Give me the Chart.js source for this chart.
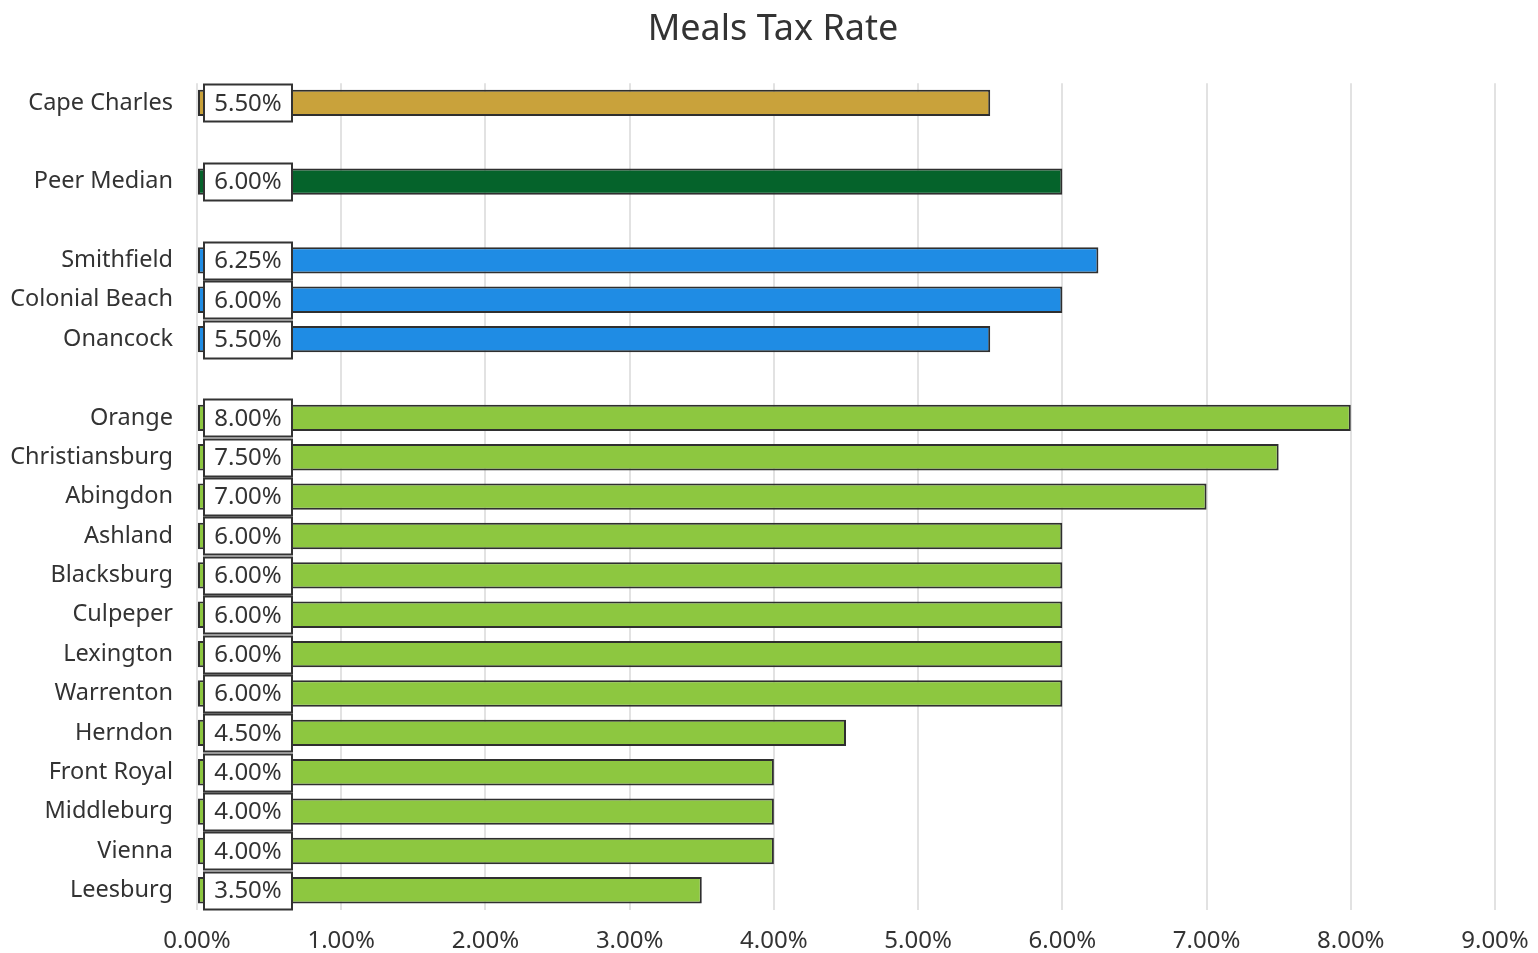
<!DOCTYPE html>
<html>
<head>
<meta charset="utf-8">
<title>Meals Tax Rate</title>
<script src="https://cdn.jsdelivr.net/npm/chart.js@4.4.1/dist/chart.umd.min.js"></script>
<style>
  html, body { margin: 0; padding: 0; background: #fff; }
  #wrap { width: 1538px; height: 953px; }
</style>
</head>
<body>
<div id="wrap"><canvas id="mealsChart"></canvas></div>
<script>
// blank entries leave a gap row between the groups
var towns = [
  'Cape Charles', '',
  'Peer Median', '',
  'Smithfield', 'Colonial Beach', 'Onancock', '',
  'Orange', 'Christiansburg', 'Abingdon', 'Ashland', 'Blacksburg',
  'Culpeper', 'Lexington', 'Warrenton', 'Herndon', 'Front Royal',
  'Middleburg', 'Vienna', 'Leesburg'
];
var rates = [
  5.5, null,
  6.0, null,
  6.25, 6.0, 5.5, null,
  8.0, 7.5, 7.0, 6.0, 6.0,
  6.0, 6.0, 6.0, 4.5, 4.0,
  4.0, 4.0, 3.5
];
var groups = [
  'home', '',
  'median', '',
  'coastal', 'coastal', 'coastal', '',
  'peer', 'peer', 'peer', 'peer', 'peer',
  'peer', 'peer', 'peer', 'peer', 'peer',
  'peer', 'peer', 'peer'
];
var xTicks = [0, 1, 2, 3, 4, 5, 6, 7, 8, 9];

var groupColors = {
  home: '#C9A23B',
  median: '#05632B',
  coastal: '#1F8CE4',
  peer: '#8DC740',
  '': 'rgba(0,0,0,0)'
};

var FONT = '"Noto Sans", "DejaVu Sans", sans-serif';
var TEXT = '#333333';

// white value boxes sitting at the start of each bar
var valueBoxes = {
  id: 'valueBoxes',
  afterDatasetsDraw: function(chart) {
    var ctx = chart.ctx;
    var meta = chart.getDatasetMeta(0);
    var left = chart.chartArea.left + 7;
    var w = 88, h = 37;
    ctx.save();
    ctx.font = '24px ' + FONT;
    ctx.textAlign = 'center';
    ctx.textBaseline = 'middle';
    meta.data.forEach(function(bar, i) {
      var v = rates[i];
      if (v === null) return;
      var top = Math.round(bar.y - h / 2) + 0.5;
      ctx.fillStyle = '#ffffff';
      ctx.fillRect(left, top, w, h);
      ctx.lineWidth = 2;
      ctx.strokeStyle = '#333333';
      ctx.strokeRect(left, top, w, h);
      ctx.fillStyle = TEXT;
      ctx.fillText(v.toFixed(2) + '%', left + w / 2, bar.y + 1);
    });
    ctx.restore();
  }
};

new Chart(document.getElementById('mealsChart'), {
  type: 'bar',
  data: {
    labels: towns,
    datasets: [{
      data: rates,
      backgroundColor: groups.map(function(g) { return groupColors[g]; }),
      borderColor: '#2f2f2f',
      borderWidth: 2,
      borderSkipped: false,
      barPercentage: 0.67,
      categoryPercentage: 1
    }]
  },
  options: {
    indexAxis: 'y',
    responsive: true,
    maintainAspectRatio: false,
    animation: false,
    layout: { padding: { left: 8, right: 0, top: 0, bottom: 0 } },
    plugins: {
      legend: { display: false },
      tooltip: { enabled: false },
      title: {
        display: true,
        text: 'Meals Tax Rate',
        color: TEXT,
        font: { family: FONT, size: 36, weight: 'normal' },
        padding: { top: 8, bottom: 32 }
      }
    },
    scales: {
      x: {
        min: 0,
        max: 9,
        afterBuildTicks: function(scale) {
          scale.ticks = xTicks.map(function(v) { return { value: v }; });
        },
        afterFit: function(scale) {
          scale.height = 43;
          scale.paddingLeft = 0;
          scale.paddingRight = 43;
        },
        grid: { color: '#e2e2e2', lineWidth: 2, drawTicks: false },
        border: { display: false },
        ticks: {
          padding: 17,
          color: TEXT,
          font: { family: FONT, size: 24 },
          callback: function(v) { return Number(v).toFixed(2) + '%'; }
        }
      },
      y: {
        afterFit: function(scale) { scale.width = 189; },
        grid: { display: false, drawTicks: false },
        border: { display: false },
        ticks: {
          autoSkip: false,
          padding: 24,
          color: TEXT,
          font: { family: FONT, size: 23.5 }
        }
      }
    }
  },
  plugins: [valueBoxes]
});
</script>
</body>
</html>
